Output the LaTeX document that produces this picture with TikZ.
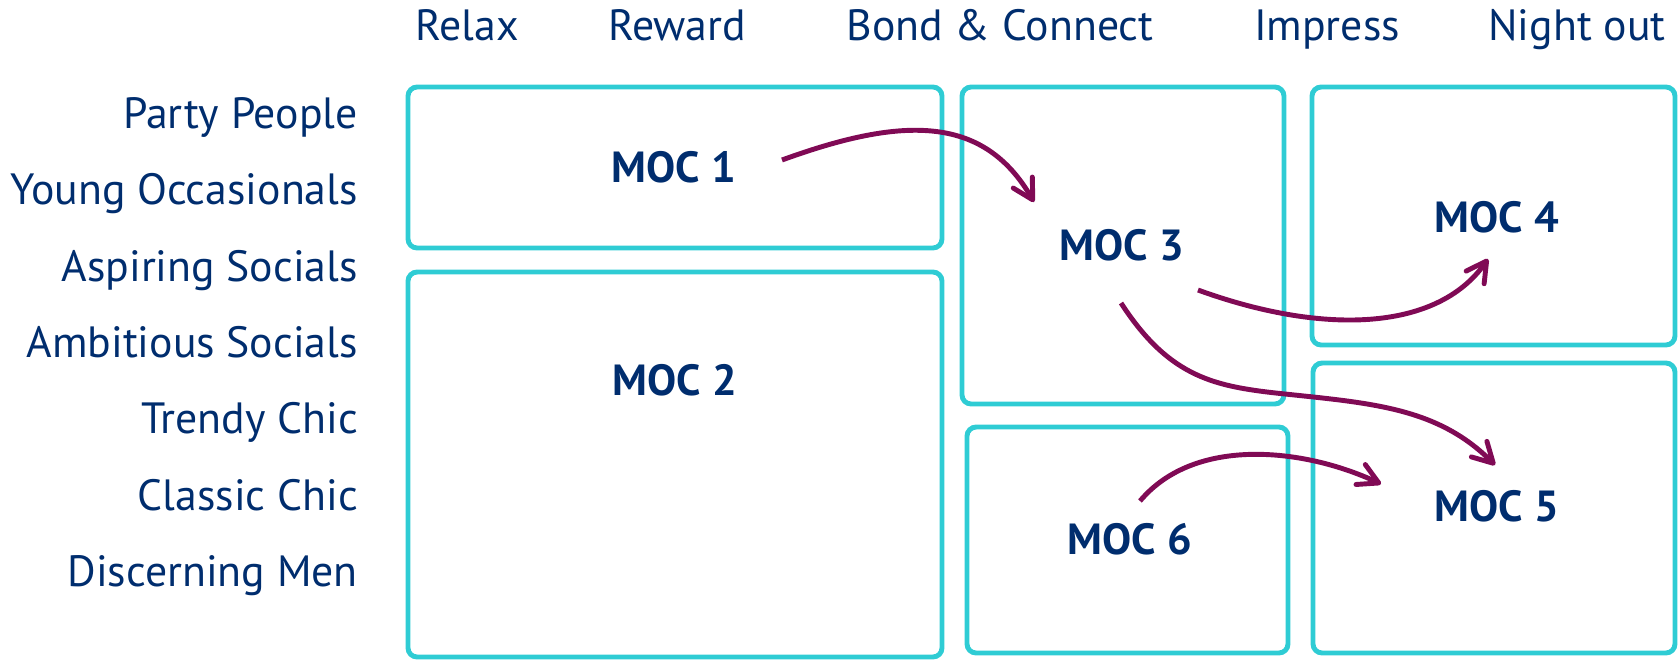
\documentclass[tikz,border=0pt]{standalone}
\usepackage{fontspec}
\setmainfont{PT Sans}
\usetikzlibrary{arrows.meta}

\definecolor{mocteal}{RGB}{47,204,212}
\definecolor{mocnavy}{RGB}{0,45,110}
\definecolor{mocplum}{RGB}{128,10,85}

\begin{document}
\begin{tikzpicture}
	\tikzset{
		zone/.style={draw=mocteal, line width=1.4pt, rounded corners=2.6pt, inner sep=0pt},
		heading/.style={text=mocnavy, inner sep=0pt, font=\fontsize{12.45}{14}\selectfont},
		moc/.style={text=mocnavy, inner sep=0pt, font=\fontsize{12.4}{14}\selectfont\bfseries},
		flow/.style={draw=mocplum, line width=1.4pt, -{Straight Barb[length=2mm, width=2.2mm, round]}}
	}
	\useasboundingbox (0, 0) rectangle (16.79, -6.60);

	% occasions along the top
	\foreach \txt/\x [count=\i] in {Relax/4.67, Reward/6.77, Bond \& Connect/10.00, Impress/13.27, Night out/15.77}
	\node[heading, anchor = base] (occ\i) at (\x, -0.40) {\txt};

	% segments down the side
	\foreach \txt [count=\i from 0] in {Party People, Young Occasionals, Aspiring Socials, Ambitious Socials, Trendy Chic, Classic Chic, Discerning Men}
	\node[heading, anchor = base east] (seg\i) at (3.585, {-1.283 - 0.764*\i}) {\txt};

	% the six occasion clusters
	\node[zone, minimum width = 5.34cm, minimum height = 1.61cm] (box1) at (6.75, -1.675) {};
	\node[zone, minimum width = 5.34cm, minimum height = 3.85cm] (box2) at (6.75, -4.645) {};
	\node[zone, minimum width = 3.22cm, minimum height = 3.17cm] (box3) at (11.23, -2.455) {};
	\node[zone, minimum width = 3.63cm, minimum height = 2.58cm] (box4) at (14.935, -2.16) {};
	\node[zone, minimum width = 3.62cm, minimum height = 2.90cm] (box5) at (14.94, -5.08) {};
	\node[zone, minimum width = 3.21cm, minimum height = 2.26cm] (box6) at (11.275, -5.40) {};

	\node[moc] (moc1) at (6.74, -1.67) {MOC 1};
	\node[moc] (moc2) at (6.75, -3.80) {MOC 2};
	\node[moc] (moc3) at (11.22, -2.45) {MOC 3};
	\node[moc] (moc4) at (14.97, -2.17) {MOC 4};
	\node[moc] (moc5) at (14.97, -5.06) {MOC 5};
	\node[moc] (moc6) at (11.30, -5.39) {MOC 6};

	% migration between clusters
	\coordinate (via35) at (12.85, -3.94);
	\draw[flow] ([shift={(1.08, 0.07)}]moc1.center) .. controls +(20:1.3) and +(120:1.0) .. ([shift={(-0.88, 0.43)}]moc3.center);
	\draw[flow] ([shift={(0.76, -0.45)}]moc3.center) .. controls +(-20:1.3) and +(235:0.9) .. ([shift={(-0.09, -0.42)}]moc4.center);
	\draw[flow] ([shift={(-0.01, -0.58)}]moc3.center) .. controls +(-57:0.9) and +(174:0.7) .. (via35)
		.. controls +(-6:0.9) and +(135:0.8) .. ([shift={(-0.02, 0.41)}]moc5.center);
	\draw[flow] ([shift={(0.10, 0.38)}]moc6.center) .. controls +(50:0.85) and +(155:0.85) .. ([shift={(-1.16, 0.22)}]moc5.center);
\end{tikzpicture}
\end{document}
